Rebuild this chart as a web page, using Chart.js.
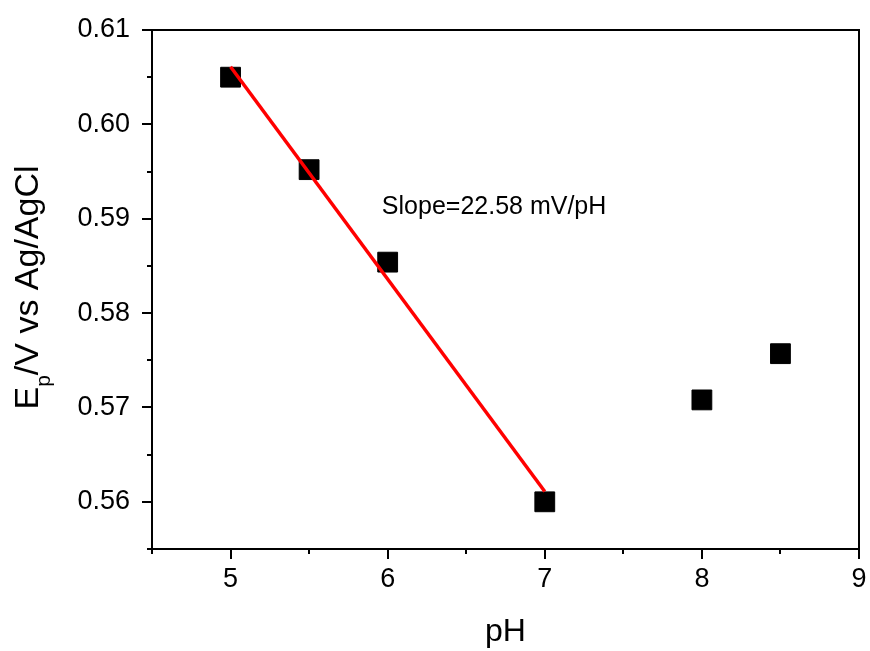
<!DOCTYPE html>
<html>
<head>
<meta charset="utf-8">
<script src="https://cdn.jsdelivr.net/npm/chart.js@4.4.0/dist/chart.umd.min.js"></script>
<style>
  html, body { margin: 0; padding: 0; background: #fff; }
  #wrap { width: 870px; height: 651px; }
</style>
</head>
<body>
<div id="wrap"><canvas id="phChart"></canvas></div>
<script>
// data
const phValues = [5, 5.5, 6, 7, 8, 8.5];
const peakPotentials = [0.6050, 0.5952, 0.5854, 0.5600, 0.5708, 0.5757];
// linear fit over pH 5 - 7 (end points)
const fitX = [5, 7];
const fitY = [0.6061, 0.5611];
const xTickLabels = ["5", "6", "7", "8", "9"];
const yTickLabels = ["0.56", "0.57", "0.58", "0.59", "0.60", "0.61"];
const slopeNote = "Slope=22.58 mV/pH";

const FONT = "'Liberation Sans', Arial, sans-serif";

function xLabel(v) {
    const s = String(v);
    return xTickLabels.includes(s) ? s : "";
}
function yLabel(v) {
    const s = v.toFixed(2);
    return (Math.abs(v * 100 - Math.round(v * 100)) < 1e-6 && yTickLabels.includes(s)) ? s : "";
}

// frame, outward major/minor ticks, y title with subscript, slope note
const decorations = {
    id: "decorations",
    afterDraw(chart) {
        const { ctx, chartArea: a, scales: { x, y } } = chart;
        ctx.save();
        ctx.strokeStyle = "#000";
        ctx.lineWidth = 2;
        ctx.strokeRect(a.left, a.top, a.right - a.left, a.bottom - a.top);

        ctx.beginPath();
        x.ticks.forEach(t => {
            const px = Math.round(x.getPixelForValue(t.value));
            const len = xLabel(t.value) ? 10 : 5;
            ctx.moveTo(px, a.bottom);
            ctx.lineTo(px, a.bottom + len);
        });
        y.ticks.forEach(t => {
            const py = Math.round(y.getPixelForValue(t.value));
            const len = yLabel(t.value) ? 10 : 5;
            ctx.moveTo(a.left, py);
            ctx.lineTo(a.left - len, py);
        });
        ctx.stroke();

        // y axis title: E_p/V vs Ag/AgCl
        const mainFont = "34px " + FONT;
        const subFont = "21px " + FONT;
        ctx.fillStyle = "#000";
        ctx.textBaseline = "alphabetic";
        ctx.textAlign = "left";
        ctx.font = mainFont;
        const wE = ctx.measureText("E").width;
        const wRest = ctx.measureText("/V vs Ag/AgCl").width;
        ctx.font = subFont;
        const wP = ctx.measureText("p").width;
        const total = wE + wP + wRest;
        ctx.save();
        ctx.translate(38, (a.top + a.bottom) / 2 - 2);
        ctx.rotate(-Math.PI / 2);
        let cx = -total / 2;
        ctx.font = mainFont;
        ctx.fillText("E", cx, 0);
        cx += wE;
        ctx.font = subFont;
        ctx.fillText("p", cx, 12);
        cx += wP;
        ctx.font = mainFont;
        ctx.fillText("/V vs Ag/AgCl", cx, 0);
        ctx.restore();

        // slope annotation
        ctx.font = "25px " + FONT;
        ctx.fillText(slopeNote, x.getPixelForValue(5.963), y.getPixelForValue(0.5905));
        ctx.restore();
    }
};

const ctx = document.getElementById("phChart").getContext("2d");

new Chart(ctx, {
    type: "scatter",
    data: {
        datasets: [
            {
                type: "line",
                label: "fit",
                data: fitX.map((v, i) => ({ x: v, y: fitY[i] })),
                borderColor: "#ff0000",
                borderWidth: 3.5,
                pointRadius: 0,
                fill: false,
                order: 0
            },
            {
                label: "Ep",
                data: phValues.map((v, i) => ({ x: v, y: peakPotentials[i] })),
                pointStyle: "rect",
                pointRadius: 14,
                pointHoverRadius: 14,
                backgroundColor: "#000",
                borderColor: "#000",
                borderWidth: 1,
                order: 1
            }
        ]
    },
    options: {
        responsive: true,
        maintainAspectRatio: false,
        animation: false,
        layout: { padding: 0, autoPadding: false },
        plugins: {
            legend: { display: false },
            tooltip: { enabled: false }
        },
        scales: {
            x: {
                type: "linear",
                min: 4.5,
                max: 9,
                afterFit: s => {
                    s.height = 102;
                    s.paddingLeft = 0;
                    s.paddingRight = 11;
                },
                border: { display: false },
                grid: { display: false, drawTicks: false },
                ticks: {
                    stepSize: 0.5,
                    autoSkip: false,
                    maxRotation: 0,
                    padding: 14,
                    color: "#000",
                    font: { family: FONT, size: 27 },
                    callback: v => xLabel(v)
                },
                title: {
                    display: true,
                    text: "pH",
                    color: "#000",
                    font: { family: FONT, size: 32 },
                    padding: { top: 0, bottom: 0 }
                }
            },
            y: {
                type: "linear",
                min: 0.555,
                max: 0.61,
                afterFit: s => {
                    s.width = 152;
                    s.paddingTop = 30;
                    s.paddingBottom = 0;
                },
                border: { display: false },
                grid: { display: false, drawTicks: false },
                ticks: {
                    stepSize: 0.005,
                    autoSkip: false,
                    padding: 22,
                    color: "#000",
                    font: { family: FONT, size: 27 },
                    callback: v => yLabel(v)
                }
            }
        }
    },
    plugins: [decorations]
});
</script>
</body>
</html>
